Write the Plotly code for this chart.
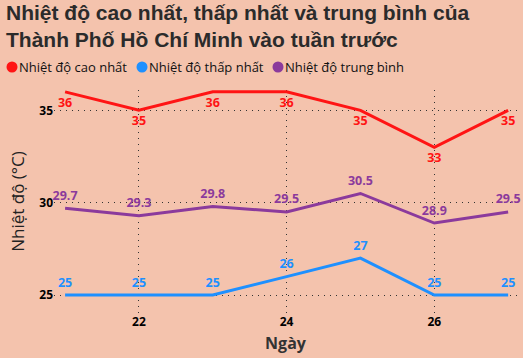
import plotly.graph_objects as go

days = [21, 22, 23, 24, 25, 26, 27]
t_max = [36, 35, 36, 36, 35, 33, 35]
t_min = [25, 25, 25, 26, 27, 25, 25]
t_avg = [29.7, 29.3, 29.8, 29.5, 30.5, 28.9, 29.5]
names = ["Nhiệt độ cao nhất", "Nhiệt độ thấp nhất", "Nhiệt độ trung bình"]
colors = ["#ff1414", "#1e90ff", "#8b3a9c"]
positions = ["bottom center", "top center", "top center"]
series = [t_max, t_min, t_avg]

W, H = 523, 358
L, R, T, B = 54, 6, 90, 45
pw, ph = W - L - R, H - T - B


def px(xp):
    return (xp - L) / pw


def py(yp):
    return (H - B - yp) / ph


fig = go.Figure()
for name, vals, col, pos in zip(names, series, colors, positions):
    fig.add_trace(go.Scatter(
        x=days, y=vals, mode="lines+markers+text", name=name,
        text=[str(v) for v in vals], textposition=pos,
        textfont=dict(color=col, size=12.5, family="Open Sans", weight="bold"),
        marker=dict(size=7, color="rgba(0,0,0,0)"),
        line=dict(color=col, width=3), showlegend=False, cliponaxis=False,
        hoverinfo="skip"))

annotations = [
    dict(text="Nhiệt độ cao nhất, thấp nhất và trung bình của<br>Thành Phố Hồ Chí Minh vào tuần trước",
         xref="paper", yref="paper", x=px(4), y=py(-1), xanchor="left", yanchor="top",
         align="left", showarrow=False,
         font=dict(family="Liberation Sans", size=21, color="#2b2b2b", weight="bold")),
]
shapes = []
legend_x = [12, 142, 278]
for n, c, lx in zip(names, colors, legend_x):
    shapes.append(dict(type="circle", xref="paper", yref="paper",
                       xsizemode="pixel", ysizemode="pixel",
                       xanchor=px(lx), yanchor=py(67),
                       x0=-5.5, x1=5.5, y0=-5.5, y1=5.5,
                       fillcolor=c, line=dict(width=0)))
    annotations.append(dict(text=n, xref="paper", yref="paper", x=px(lx + 5), y=py(67),
                            xanchor="left", yanchor="middle", showarrow=False,
                            font=dict(family="Open Sans", size=13, color="#111")))

fig.update_layout(
    width=W, height=H,
    paper_bgcolor="#f4c3ad", plot_bgcolor="#f4c3ad",
    margin=dict(l=L, r=R, t=T, b=B),
    showlegend=False,
    annotations=annotations,
    shapes=shapes,
)
fig.update_xaxes(range=[20.85, 27.12], tickvals=[22, 24, 26], ticktext=["22", "24", "26"],
                 showgrid=True, gridcolor="#333", griddash="1px,5px", gridwidth=1,
                 zeroline=False, showline=False, ticks="",
                 tickfont=dict(family="Open Sans", size=12, color="#000", weight="bold"),
                 title=dict(text="Ngày", font=dict(family="Open Sans", size=16, color="#333", weight="bold"), standoff=8))
fig.update_yaxes(range=[24.03, 36.1], tickvals=[25, 30, 35], ticktext=["25", "30", "35"],
                 showgrid=True, gridcolor="#333", griddash="1px,5px", gridwidth=1,
                 zeroline=False, showline=False, ticks="",
                 tickfont=dict(family="Open Sans", size=12, color="#000", weight="bold"),
                 title=dict(text="Nhiệt độ (°C)", font=dict(family="Open Sans", size=17, color="#222"), standoff=10))

fig.write_html("out.html", config={"displayModeBar": False},
               post_script="document.body.style.margin='0';")
